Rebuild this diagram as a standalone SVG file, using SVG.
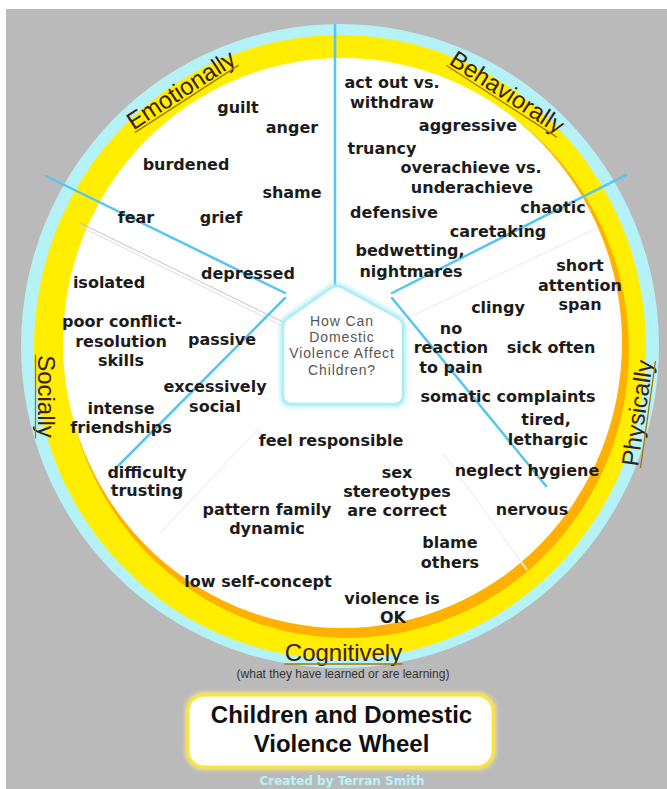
<svg xmlns="http://www.w3.org/2000/svg" width="667" height="789" viewBox="0 0 667 789">
  <style>
    .item { font-family: "DejaVu Sans", Verdana, sans-serif; font-weight: bold; font-size: 16px; fill: #1c1c1c; text-anchor: middle; }
    .cat { font-family: "Liberation Sans", Arial, sans-serif; font-size: 24px; fill: #3a200a; text-anchor: middle; }
    .uline { stroke: #a87400; stroke-width: 1.3; }
    .spoke { stroke: #55c5f2; stroke-width: 2.5; stroke-linecap: round; fill: none; }
    .ghost { stroke: #f2f2f2; stroke-width: 1.5; fill: none; }
    .hub-text { font-family: "Liberation Sans", Arial, sans-serif; font-size: 14px; letter-spacing: 0.9px; fill: #555555; text-anchor: middle; }
    .title { font-family: "Liberation Sans", Arial, sans-serif; font-weight: bold; font-size: 24px; fill: #111111; text-anchor: middle; }
  </style>
  <defs>
    <filter id="soft" x="-20%" y="-20%" width="140%" height="140%">
      <feGaussianBlur stdDeviation="2"/>
    </filter>
  </defs>

  <!-- backdrop -->
  <rect x="0" y="0" width="667" height="789" fill="#ffffff"/>
  <rect x="6" y="9" width="661" height="780" fill="#bababa"/>

  <!-- wheel rings -->
  <g id="wheel">
    <ellipse cx="340" cy="346" rx="319" ry="322" fill="#b5f2f7"/>
    <ellipse cx="340" cy="347" rx="306" ry="312" fill="#ffee00"/>
    <ellipse cx="347" cy="350" rx="282" ry="288" fill="#ffb000"/>
    <ellipse cx="342.5" cy="343" rx="279.5" ry="285" fill="#ffffff"/>
    <!-- faint old sector dividers -->
    <line x1="80" y1="223" x2="283" y2="322" stroke="#c4c4c4" stroke-width="1"/>
    <line x1="79" y1="226" x2="281" y2="325" stroke="#dddddd" stroke-width="1"/>
    <line class="ghost" x1="597" y1="228" x2="410" y2="317"/>
    <line class="ghost" x1="260" y1="427" x2="160" y2="533"/>
    <line class="ghost" x1="443" y1="453" x2="527" y2="570"/>
  </g>

  <!-- sector dividers -->
  <g id="connectors">
    <line class="spoke" x1="335" y1="25" x2="335" y2="285"/>
    <line class="spoke" x1="46" y1="176" x2="285" y2="293"/>
    <line class="spoke" x1="285" y1="298" x2="116" y2="468"/>
    <line class="spoke" x1="392" y1="293" x2="626" y2="175"/>
    <line class="spoke" x1="392" y1="298" x2="546" y2="486"/>
  </g>

  <!-- hub -->
  <g id="hub">
    <path d="M331,288 Q337,284 343,288 L398,318 Q403,321 403,327 L403,395 Q403,404 394,404 L292,404 Q283,404 283,395 L283,327 Q283,321 288,318 Z" fill="none" stroke="#9feaf2" stroke-width="6" opacity="0.8" filter="url(#soft)"/>
    <path d="M331,288 Q337,284 343,288 L398,318 Q403,321 403,327 L403,395 Q403,404 394,404 L292,404 Q283,404 283,395 L283,327 Q283,321 288,318 Z" fill="#ffffff" stroke="#abeff5" stroke-width="2.5"/>
    <text class="hub-text" x="342" y="326">How Can</text>
    <text class="hub-text" x="342" y="342.2">Domestic</text>
    <text class="hub-text" x="342" y="358.4">Violence Affect</text>
    <text class="hub-text" x="342" y="374.6">Children?</text>
  </g>

  <!-- Emotionally -->
  <g id="sector-emotionally">
    <g transform="translate(185.4,96.8) rotate(-33)">
      <text class="cat" x="0" y="0">Emotionally</text>
      <line class="uline" x1="-62" y1="2.5" x2="62" y2="2.5"/>
    </g>
    <text class="item" x="238" y="113">guilt</text>
    <text class="item" x="292" y="133">anger</text>
    <text class="item" x="186" y="170">burdened</text>
    <text class="item" x="292" y="198">shame</text>
    <text class="item" x="136" y="223">fear</text>
    <text class="item" x="221" y="223">grief</text>
    <text class="item" x="248" y="279">depressed</text>
  </g>

  <!-- Behaviorally -->
  <g id="sector-behaviorally">
    <g transform="translate(502.8,99.1) rotate(33)">
      <text class="cat" x="0" y="0">Behaviorally</text>
      <line class="uline" x1="-66" y1="2.5" x2="66" y2="2.5"/>
    </g>
    <text class="item" x="392" y="88">act out vs.<tspan x="392" y="108">withdraw</tspan></text>
    <text class="item" x="468" y="131">aggressive</text>
    <text class="item" x="382" y="154">truancy</text>
    <text class="item" x="471" y="173">overachieve vs.<tspan x="472" y="193">underachieve</tspan></text>
    <text class="item" x="553" y="213">chaotic</text>
    <text class="item" x="394" y="218">defensive</text>
    <text class="item" x="498" y="237">caretaking</text>
    <text class="item" x="410" y="256">bedwetting,<tspan x="411" y="277">nightmares</tspan></text>
  </g>

  <!-- Socially -->
  <g id="sector-socially">
    <g transform="translate(38,396.5) rotate(90)">
      <text class="cat" x="0" y="0">Socially</text>
      <line class="uline" x1="-42" y1="2.5" x2="42" y2="2.5"/>
    </g>
    <text class="item" x="109" y="288">isolated</text>
    <text class="item" x="122" y="327">poor conflict-<tspan x="121" y="347">resolution</tspan><tspan x="121" y="366">skills</tspan></text>
    <text class="item" x="222" y="345">passive</text>
    <text class="item" x="215" y="392">excessively<tspan x="215" y="412">social</tspan></text>
    <text class="item" x="121" y="414">intense<tspan x="121" y="433">friendships</tspan></text>
    <text class="item" x="147" y="478">difficulty<tspan x="147" y="496">trusting</tspan></text>
  </g>

  <!-- Physically -->
  <g id="sector-physically">
    <g transform="translate(645.5,414.2) rotate(-82)">
      <text class="cat" x="0" y="0">Physically</text>
      <line class="uline" x1="-54" y1="2.5" x2="54" y2="2.5"/>
    </g>
    <text class="item" x="580" y="271">short<tspan x="580" y="291">attention</tspan><tspan x="580" y="310">span</tspan></text>
    <text class="item" x="498" y="313">clingy</text>
    <text class="item" x="451" y="334">no<tspan x="451" y="353">reaction</tspan><tspan x="451" y="373">to pain</tspan></text>
    <text class="item" x="551" y="353">sick often</text>
    <text class="item" x="508" y="402">somatic complaints</text>
    <text class="item" x="546" y="425">tired,<tspan x="548" y="445">lethargic</tspan></text>
    <text class="item" x="527" y="476">neglect hygiene</text>
    <text class="item" x="532" y="515">nervous</text>
  </g>

  <!-- Cognitively -->
  <g id="sector-cognitively">
    <g transform="translate(343.5,661)">
      <text class="cat" x="0" y="0">Cognitively</text>
      <line class="uline" x1="-59" y1="3" x2="59" y2="3"/>
    </g>
    <text x="343" y="678" font-family="Liberation Sans, Arial, sans-serif" font-size="12" fill="#333333" text-anchor="middle">(what they have learned or are learning)</text>
    <text class="item" x="331" y="446">feel responsible</text>
    <text class="item" x="397" y="478">sex<tspan x="397" y="497">stereotypes</tspan><tspan x="397" y="516">are correct</tspan></text>
    <text class="item" x="267" y="515">pattern family<tspan x="267" y="534">dynamic</tspan></text>
    <text class="item" x="450" y="548">blame<tspan x="450" y="568">others</tspan></text>
    <text class="item" x="258" y="587">low self-concept</text>
    <text class="item" x="392" y="604">violence is<tspan x="393" y="623">OK</tspan></text>
  </g>

  <!-- title plate -->
  <g id="title">
    <rect x="188" y="695" width="305" height="72" rx="16" fill="none" stroke="#fff07a" stroke-width="6" opacity="0.8" filter="url(#soft)"/>
    <rect x="188" y="695" width="305" height="72" rx="16" fill="#ffffff" stroke="#ffe23a" stroke-width="3"/>
    <text class="title" x="341.5" y="723">Children and Domestic</text>
    <text class="title" x="341.5" y="752">Violence Wheel</text>
  </g>
  <text x="342" y="785" font-family="DejaVu Sans, Verdana, sans-serif" font-weight="bold" font-size="12" fill="#b8f4fa" text-anchor="middle">Created by Terran Smith</text>
</svg>
